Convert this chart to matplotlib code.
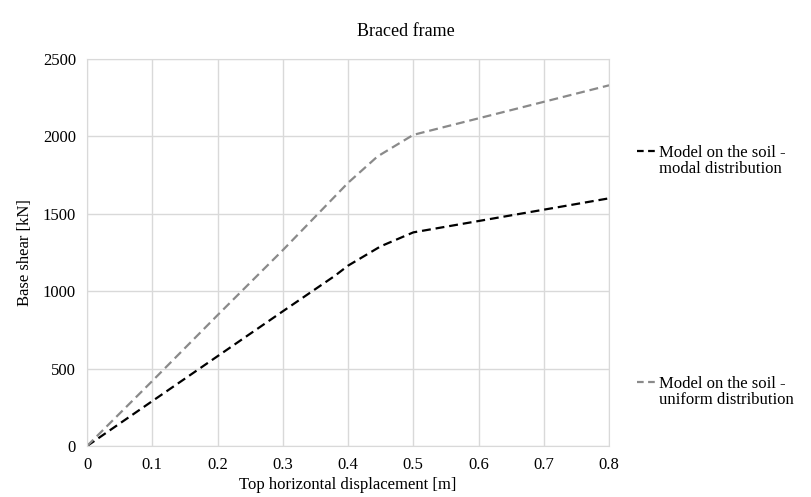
import numpy as np
import matplotlib.pyplot as plt
from matplotlib.lines import Line2D

plt.rcParams["font.family"] = ["Liberation Serif", "DejaVu Serif"]

# data
disp_modal = [0, 0.1, 0.2, 0.3, 0.38, 0.40, 0.45, 0.50, 0.8]
shear_modal = [0, 290, 580, 870, 1100, 1165, 1290, 1380, 1600]

disp_uniform = [0, 0.1, 0.2, 0.3, 0.4, 0.445, 0.5, 0.8]
shear_uniform = [0, 420, 845, 1265, 1700, 1870, 2010, 2330]

x_ticks = [0, 0.1, 0.2, 0.3, 0.4, 0.5, 0.6, 0.7, 0.8]
x_labels = ["0", "0.1", "0.2", "0.3", "0.4", "0.5", "0.6", "0.7", "0.8"]
y_ticks = [0, 500, 1000, 1500, 2000, 2500]

labels = ["Model on the soil -\nmodal distribution",
          "Model on the soil -\nuniform distribution"]
colors = ["black", "#8a8a8a"]

grid_c = "#d9d9d9"

fig = plt.figure(figsize=(8.11, 4.97), dpi=100)
ax = fig.add_axes([0.1073, 0.1026, 0.6437, 0.7787])

dash = (0, (4, 2.2))
ax.plot(disp_modal, shear_modal, color=colors[0], lw=1.6, linestyle=dash)
ax.plot(disp_uniform, shear_uniform, color=colors[1], lw=1.6, linestyle=dash)

ax.set_xlim(0, 0.8)
ax.set_ylim(0, 2500)
ax.set_xticks(x_ticks)
ax.set_xticklabels(x_labels)
ax.set_yticks(y_ticks)
ax.tick_params(length=0, labelsize=12, pad=8)
ax.grid(color=grid_c, lw=1)
ax.set_axisbelow(True)
for s in ax.spines.values():
    s.set_color(grid_c)

ax.set_xlabel("Top horizontal displacement [m]", fontsize=12, labelpad=3)
ax.set_ylabel("Base shear [kN]", fontsize=12, labelpad=7)
fig.text(0.5, 0.937, "Braced frame", ha="center", va="center", fontsize=13)

# legend entries on the right, handle level with the first text line
for lab, col, ypos in zip(labels, colors, [0.696, 0.231]):
    fig.add_artist(Line2D([0.786, 0.809], [ypos, ypos], transform=fig.transFigure,
                          color=col, lw=1.6, linestyle=(0, (3, 2))))
    fig.text(0.8126, ypos + 0.012, lab, ha="left", va="top", fontsize=12,
             linespacing=1.0)

plt.savefig("out.png", dpi=100)
